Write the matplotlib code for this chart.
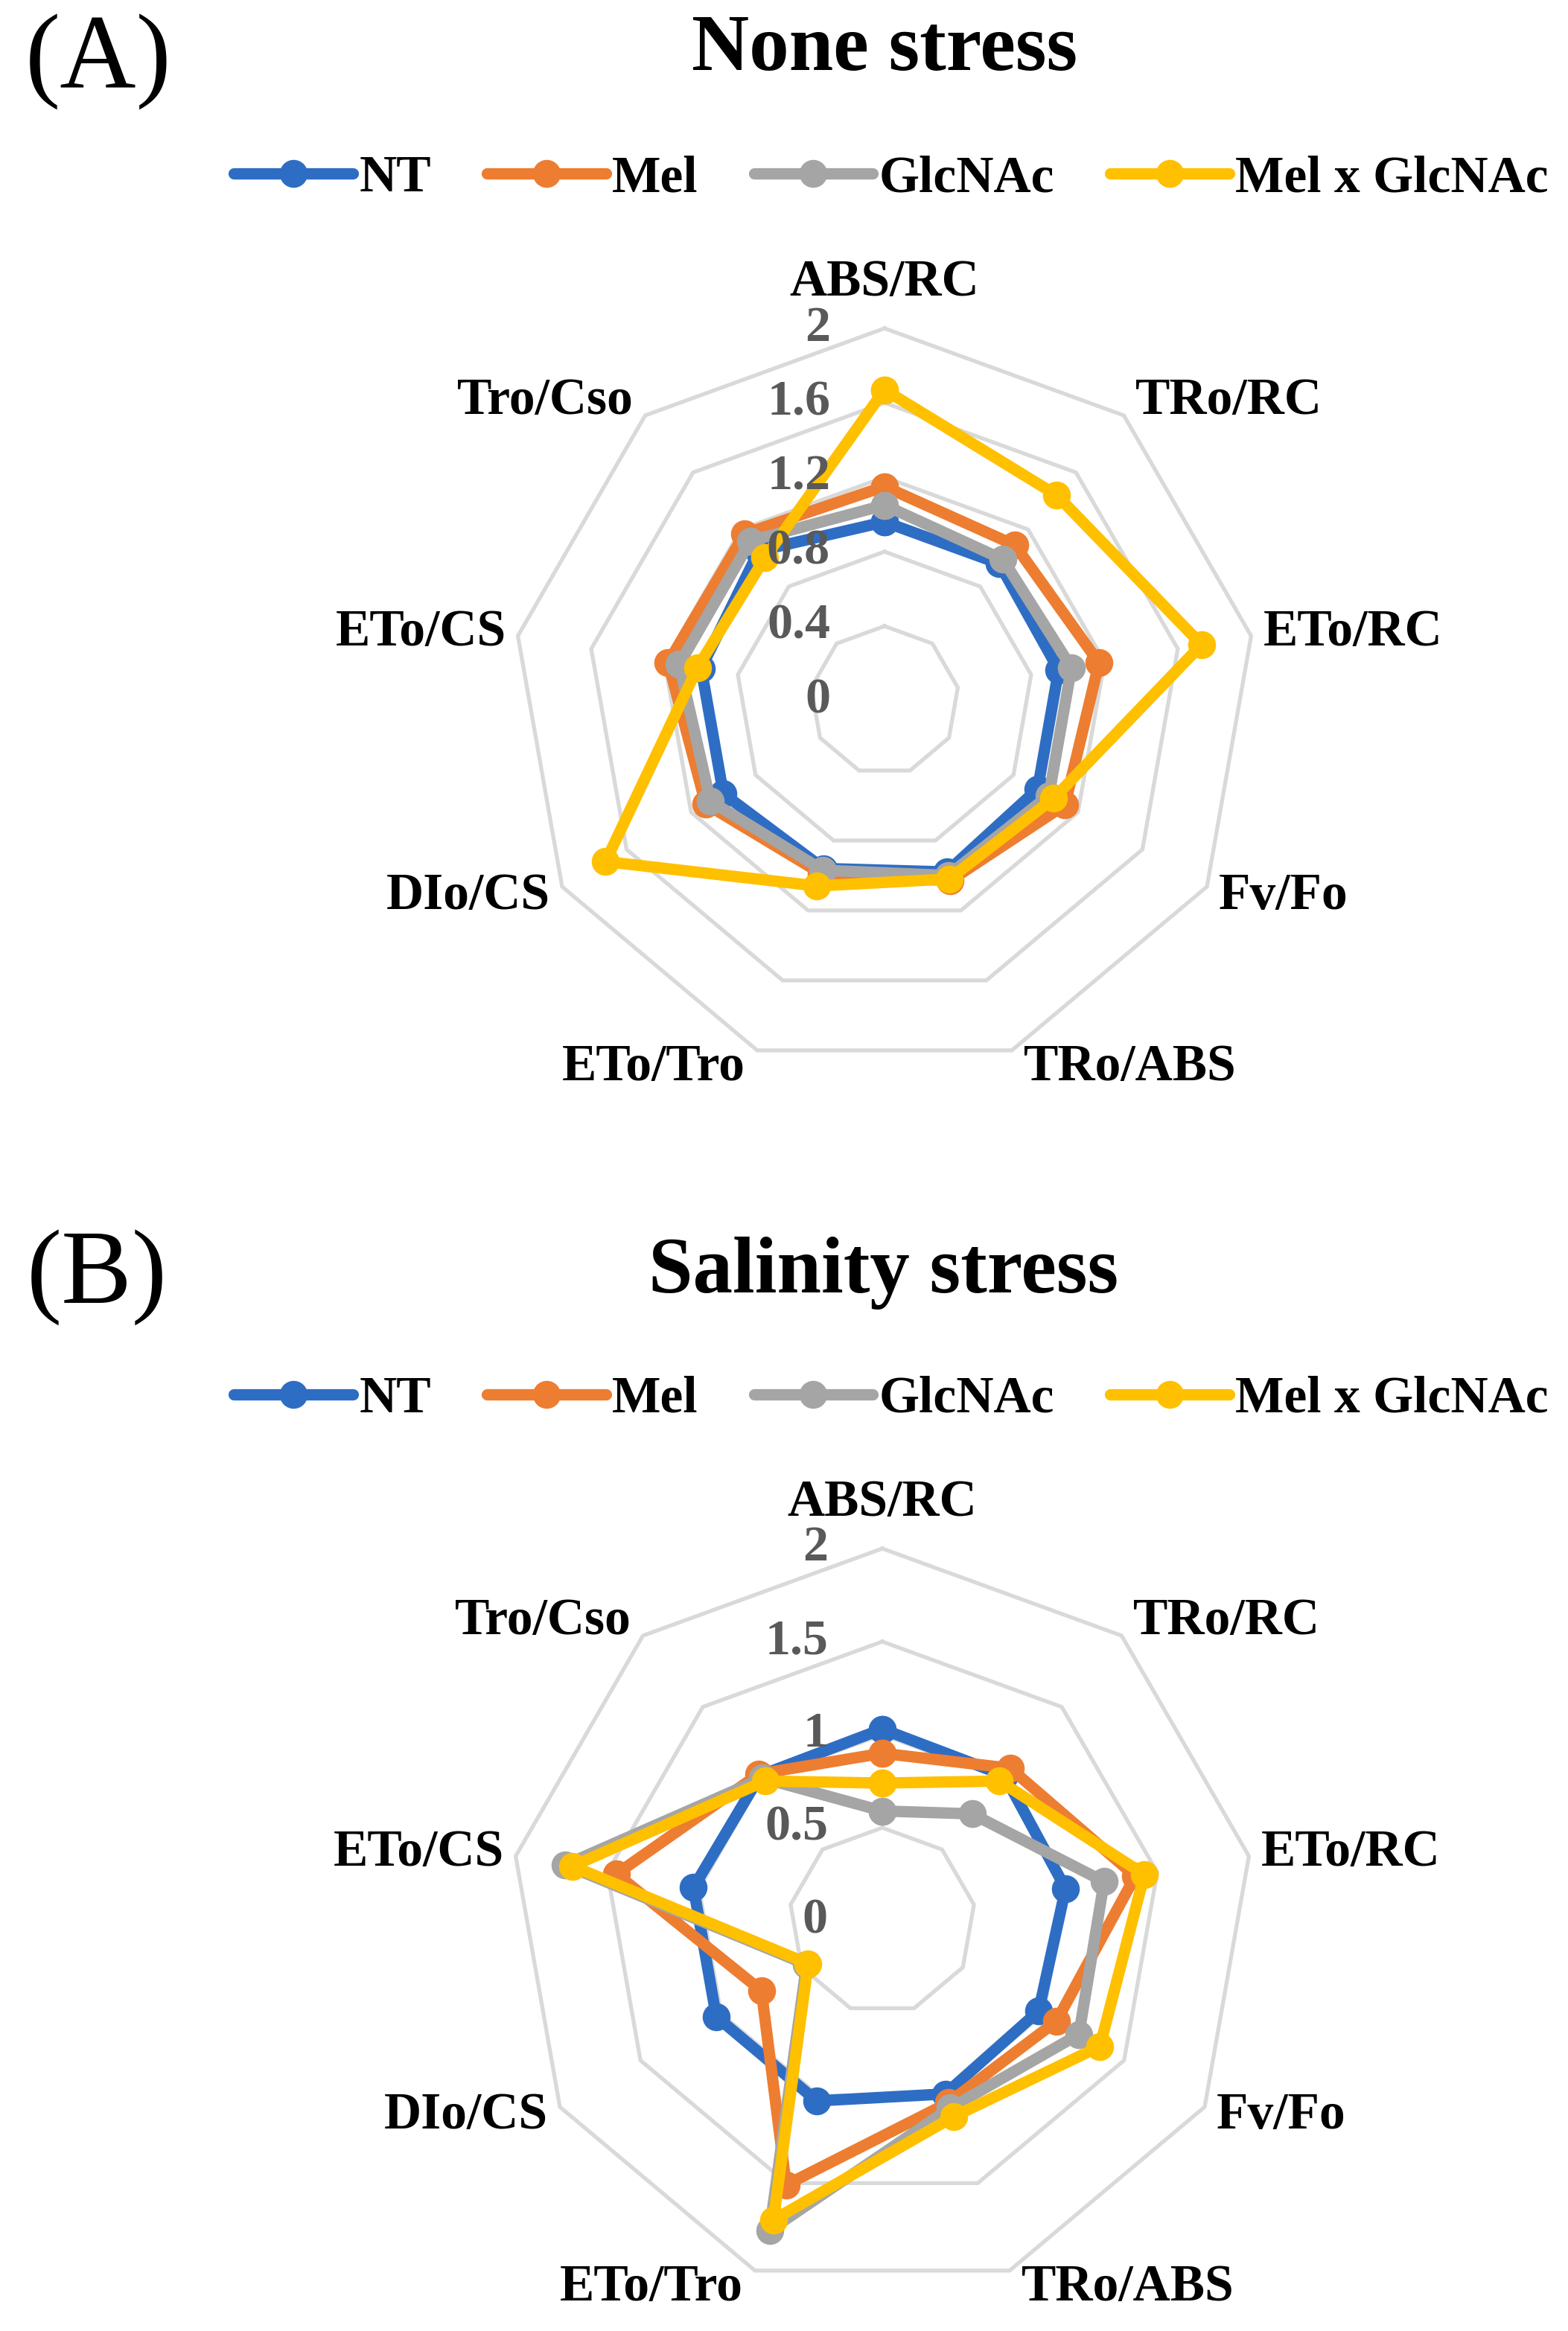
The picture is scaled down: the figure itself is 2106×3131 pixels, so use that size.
import numpy as np
import matplotlib
matplotlib.use("Agg")
import matplotlib.pyplot as plt
from matplotlib.lines import Line2D

plt.rcParams['font.family'] = ['Liberation Serif', 'DejaVu Serif']

categories = ["ABS/RC", "TRo/RC", "ETo/RC", "Fv/Fo", "TRo/ABS",
              "ETo/Tro", "DIo/CS", "ETo/CS", "Tro/Cso"]
series_names = ["NT", "Mel", "GlcNAc", "Mel x GlcNAc"]
colors = ["#2E6DC4", "#ED7D31", "#A5A5A5", "#FFC000"]

# Panel A: None stress
none_nt = [0.96, 0.96, 0.95, 0.95, 0.98, 0.96, 1.00, 1.00, 1.05]
none_mel = [1.15, 1.09, 1.17, 1.12, 1.03, 0.99, 1.11, 1.18, 1.17]
none_glc = [1.05, 0.99, 1.02, 1.02, 1.00, 0.97, 1.08, 1.12, 1.12]
none_mxg = [1.67, 1.44, 1.73, 1.05, 1.02, 1.06, 1.73, 1.02, 1.00]
none_ticks = [0, 0.4, 0.8, 1.2, 1.6, 2.0]
none_tick_labels = ["0", "0.4", "0.8", "1.2", "1.6", "2"]

# Panel B: Salinity stress
salt_nt = [1.03, 1.02, 1.00, 0.97, 0.99, 1.03, 1.03, 1.03, 1.02]
salt_mel = [0.90, 1.07, 1.38, 1.08, 1.04, 1.51, 0.75, 1.45, 1.03]
salt_glc = [0.59, 0.75, 1.21, 1.22, 1.07, 1.77, 0.47, 1.73, 1.00]
salt_mxg = [0.74, 0.98, 1.43, 1.35, 1.12, 1.71, 0.46, 1.69, 0.98]
salt_ticks = [0, 0.5, 1.0, 1.5, 2.0]
salt_tick_labels = ["0", "0.5", "1", "1.5", "2"]

W, H = 2106, 3131
fig = plt.figure(figsize=(W / 100, H / 100), dpi=100)
PX = 0.72  # points per pixel
LW = 11.0
MS = 27

def radar(cx, cy, R, data, ticks, tick_labels):
    ax = fig.add_axes([(cx - R) / W, 1 - (cy + R) / H, 2 * R / W, 2 * R / H],
                      projection='polar')
    ax.set_theta_offset(np.pi / 2)
    ax.set_theta_direction(-1)
    ax.set_ylim(0, ticks[-1])
    ax.grid(False)
    ax.spines['polar'].set_visible(False)
    ax.set_xticks([])
    ax.set_yticks([])
    ax.patch.set_visible(False)
    n = len(categories)
    ang = np.linspace(0, 2 * np.pi, n, endpoint=False)
    angc = np.append(ang, ang[0])
    for v in ticks[1:]:
        ax.plot(angc, [v] * (n + 1), color="#D9D9D9", lw=3.8, zorder=1,
                clip_on=False, solid_joinstyle='miter')
    for vals, col in zip(data, colors):
        vv = np.append(vals, vals[0])
        ax.plot(angc, vv, color=col, lw=LW, marker='o', ms=MS,
                markeredgewidth=0, zorder=3, clip_on=False,
                solid_joinstyle='round')
    for v, lab in zip(ticks, tick_labels):
        ax.annotate(lab, xy=(0, v), xytext=(-73 * PX, 0),
                    textcoords='offset points', ha='right', va='center',
                    fontsize=49, fontweight='bold', color="#595959", zorder=5,
                    annotation_clip=False)
    rmax = ticks[-1]
    for a, lab in zip(ang, categories):
        deg = np.degrees(a)
        if deg < 1:
            off = (0, 61 * PX)
            ha = 'center'
        elif deg < 180:
            off = (16 * PX, 25 * np.cos(a) * PX)
            ha = 'left'
        else:
            off = (-16 * PX, 25 * np.cos(a) * PX)
            ha = 'right'
        ax.annotate(lab, xy=(a, rmax), xytext=off, textcoords='offset points',
                    ha=ha, va='center', fontsize=50, fontweight='bold',
                    color="black", annotation_clip=False)
    return ax

def legend(y_px):
    handles = [Line2D([], [], color=c, lw=LW, marker='o', ms=MS,
                      markeredgewidth=0, solid_capstyle='round') for c in colors]
    fig.legend(handles, series_names, loc='center',
               bbox_to_anchor=(1197 / W, 1 - y_px / H), ncol=4, frameon=False,
               prop={'family': 'Liberation Serif', 'weight': 'bold', 'size': 50},
               handlelength=2.3, handletextpad=0.12, columnspacing=1.08,
               borderaxespad=0)

# Panel A
fig.text(132 / W, 1 - 83 / H, "(A)", fontsize=102, ha='center', va='center')
fig.text(1188 / W, 1 - 68 / H, "None stress", fontsize=77, fontweight='bold',
         ha='center', va='center')
legend(240)
radar(1188, 941, 500, [none_nt, none_mel, none_glc, none_mxg],
      none_ticks, none_tick_labels)

# Panel B
fig.text(130 / W, 1 - 1716 / H, "(B)", fontsize=102, ha='center', va='center')
fig.text(1187 / W, 1 - 1710 / H, "Salinity stress", fontsize=77,
         fontweight='bold', ha='center', va='center')
legend(1880)
radar(1185, 2580, 500, [salt_nt, salt_mel, salt_glc, salt_mxg],
      salt_ticks, salt_tick_labels)

fig.savefig("out.png", dpi=100, facecolor="white")
